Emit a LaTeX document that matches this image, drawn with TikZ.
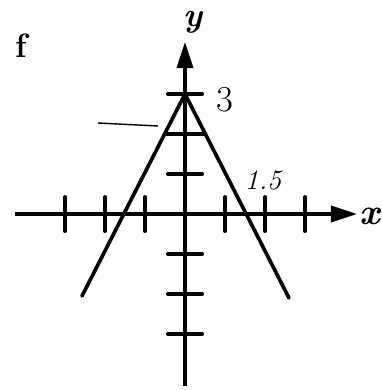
\documentclass[tikz,border=0pt]{standalone}
\usepackage{amsmath,amssymb}
\usepackage{xcolor}
\usetikzlibrary{arrows.meta}

\begin{document}
\begin{tikzpicture}[axis/.style={line width=2.6pt, -{Triangle[length=6.5mm, width=4mm]}},
    graph/.style={line width=2.6pt, line cap=round},
    tick/.style={line width=3.2pt, line cap=round},
    every node/.style={inner sep=0pt}]
    \useasboundingbox (-4.625,-4.4) rectangle (4.925,5.35);
    \coordinate (xmin) at (-4.25,0);
    \coordinate (xmax) at (4.3,0);
    \coordinate (ymin) at (0,-4.3);
    \coordinate (ymax) at (0,4.3);
    \coordinate (apex) at (0,3);
    \coordinate (leftend) at (-2.575,-2.05);
    \coordinate (rightend) at (2.6,-2.1);
    \coordinate (leftmid) at (-0.5,2);
    \coordinate (rightmid) at (0.5,2);
    \coordinate (markstart) at (-2.175,2.275);
    \coordinate (markend) at (-0.675,2.2);
    \draw[axis] (xmin) -- (xmax);
    \draw[axis] (ymin) -- (ymax);
    \foreach \x in {-3,-2,-1,1,2,3}
      \draw[tick] (\x,-0.42) -- (\x,0.42);
    \foreach \y in {3,1,-1,-2,-3}
      \draw[tick] (-0.42,\y) -- (0.42,\y);
    \draw[graph] (leftend) -- (apex) -- (rightend);
    \draw[graph] (leftmid) -- (rightmid);
    \draw[line width=1pt] (markstart) -- (markend);
    \node (ylabel) at (0.2,4.8) {\fontsize{24}{24}\selectfont\bfseries\itshape y};
    \node (xlabel) at (4.62,-0.05) {\fontsize{26}{26}\selectfont\bfseries\itshape x};
    \node (partf) at (-4.1,4.2) {\fontsize{24}{24}\selectfont\bfseries f};
    \node (three) at (1.0,2.85) {\fontsize{26}{26}\selectfont 3};
    \node (onefive) at (1.95,0.85) {\fontsize{20}{20}\selectfont\itshape 1.5};
  \end{tikzpicture}
\end{document}
